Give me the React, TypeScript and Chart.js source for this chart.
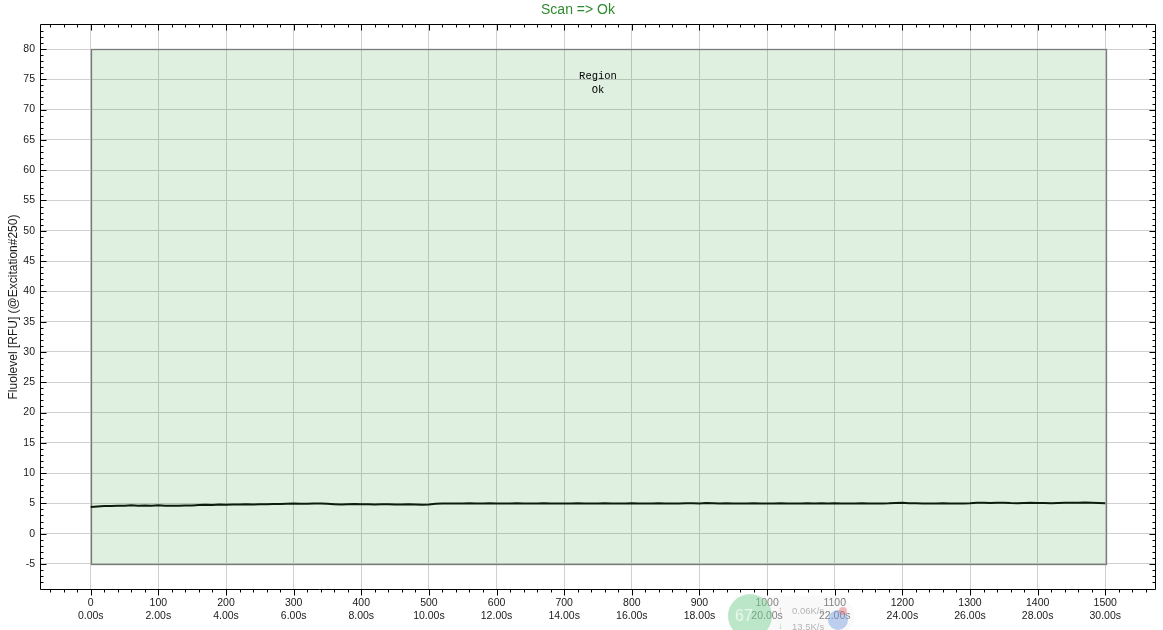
import React, { useEffect, useRef } from "react";
import { Chart, registerables } from "chart.js";

Chart.register(...registerables);

const TITLE = "Scan => Ok";
const Y_TITLE = "Fluolevel [RFU] (@Excitation#250)";
const X_MIN = -75;
const X_MAX = 1575;
const Y_MIN = -9.3;
const Y_MAX = 84.13;
const X_TICKS = [0, 100, 200, 300, 400, 500, 600, 700, 800, 900, 1000, 1100, 1200, 1300, 1400, 1500];
const Y_TICKS = [-5, 0, 5, 10, 15, 20, 25, 30, 35, 40, 45, 50, 55, 60, 65, 70, 75, 80];
const X_MINOR_STEP = 20;
const Y_MINOR_STEP = 1;
const SECONDS_PER_SAMPLE = 0.02;
const SAMPLE_STEP = 10;

const REGION_X = [0, 1500];
const REGION_Y = [-5, 80];
const REGION_LABEL = ["Region", "Ok"];

// Fluorescence level, one value every SAMPLE_STEP samples (0..1500)
const FLUO = [
  4.4, 4.5, 4.55, 4.58, 4.6, 4.62, 4.7, 4.62, 4.64, 4.6, 4.68, 4.62, 4.6, 4.62, 4.66, 4.64,
  4.75, 4.78, 4.74, 4.8, 4.78, 4.82, 4.8, 4.84, 4.8, 4.86, 4.84, 4.9, 4.88, 4.92, 4.96, 4.94, 4.92, 4.96, 4.98, 4.94,
  4.86, 4.8, 4.84, 4.9, 4.86, 4.84, 4.82, 4.86, 4.84, 4.8, 4.82, 4.84, 4.8, 4.78, 4.82,
  4.94, 4.96, 4.98, 4.96, 4.98, 5.0, 4.96, 4.98, 5.0, 4.98, 4.96, 4.98, 5.0, 4.98, 4.96, 4.98, 5.0, 4.98, 4.96, 4.98,
  4.98, 5.0, 4.98, 4.96, 4.98, 5.0, 4.98, 4.96, 4.98, 5.0, 4.98, 4.96, 4.98, 5.0, 4.98, 4.96, 4.98, 5.0, 5.02, 4.98,
  5.08, 5.02, 4.98, 5.0, 4.98, 4.96, 4.98, 5.0, 4.98, 4.96, 4.98, 5.0, 4.98, 4.96, 4.98, 5.0, 4.98, 5.02, 4.98, 5.0,
  4.98, 4.96, 4.98, 5.0, 4.98, 4.96, 4.98, 5.0, 5.06, 5.1, 5.02, 5.0, 4.98, 4.96, 4.98, 5.0, 4.98, 4.96, 4.98, 5.0,
  5.1, 5.12, 5.08, 5.1, 5.12, 5.06, 5.04, 5.08, 5.1, 5.06, 5.08, 5.04, 5.06, 5.1, 5.12, 5.1, 5.14, 5.1, 5.06, 5.04,
];

const FONT = '"Liberation Sans", Arial, sans-serif';

const framePlugin = {
  id: "framePlugin",
  beforeDatasetsDraw(chart: any) {
    const { ctx, scales } = chart;
    const x = scales.x;
    const y = scales.y;
    const x0 = x.getPixelForValue(REGION_X[0]);
    const x1 = x.getPixelForValue(REGION_X[1]);
    const y0 = y.getPixelForValue(REGION_Y[1]);
    const y1 = y.getPixelForValue(REGION_Y[0]);
    ctx.save();
    ctx.fillStyle = "rgba(0,128,0,0.12)";
    ctx.fillRect(x0, y0, x1 - x0, y1 - y0);
    ctx.strokeStyle = "#7a7a7a";
    ctx.lineWidth = 1.3;
    ctx.strokeRect(Math.round(x0) + 0.5, Math.round(y0) + 0.5, Math.round(x1 - x0), Math.round(y1 - y0));
    ctx.fillStyle = "#000";
    ctx.font = '10.5px "Liberation Mono", "DejaVu Sans Mono", monospace';
    ctx.textAlign = "center";
    ctx.textBaseline = "middle";
    const cx = x.getPixelForValue((REGION_X[0] + REGION_X[1]) / 2);
    REGION_LABEL.forEach((t, i) => ctx.fillText(t, cx, y0 + 27 + i * 14));
    ctx.restore();
  },
  afterDatasetsDraw(chart: any) {
    const { ctx, chartArea, scales } = chart;
    const x = scales.x;
    const y = scales.y;
    const L = Math.round(chartArea.left) + 0.5;
    const R = Math.round(chartArea.right) - 0.5;
    const T = Math.round(chartArea.top) + 0.5;
    const B = Math.round(chartArea.bottom) - 0.5;
    ctx.save();
    ctx.strokeStyle = "#000";
    ctx.lineWidth = 1;
    ctx.beginPath();
    ctx.rect(L, T, R - L, B - T);
    const xStart = Math.ceil(X_MIN / X_MINOR_STEP) * X_MINOR_STEP;
    for (let v = xStart; v <= X_MAX; v += X_MINOR_STEP) {
      const major = v % 100 === 0;
      const len = major ? 6 : 3;
      const px = Math.round(x.getPixelForValue(v)) + 0.5;
      if (px <= L + 1 || px >= R - 1) continue;
      ctx.moveTo(px, T);
      ctx.lineTo(px, T + len);
      ctx.moveTo(px, B);
      ctx.lineTo(px, B + len);
    }
    const yStart = Math.ceil(Y_MIN / Y_MINOR_STEP) * Y_MINOR_STEP;
    for (let v = yStart; v <= Y_MAX; v += Y_MINOR_STEP) {
      const major = v % 5 === 0;
      const len = major ? 6 : 3;
      const py = Math.round(y.getPixelForValue(v)) + 0.5;
      if (py <= T + 1 || py >= B - 1) continue;
      ctx.moveTo(L, py);
      ctx.lineTo(L + len, py);
      ctx.moveTo(R, py);
      ctx.lineTo(R - len, py);
    }
    ctx.stroke();
    ctx.restore();
  },
  afterDraw(chart: any) {
    const { ctx } = chart;
    ctx.save();
    ctx.globalAlpha = 0.45;
    ctx.fillStyle = "#f2f2f2";
    ctx.beginPath();
    ctx.roundRect(728, 596, 126, 40, 20);
    ctx.fill();
    ctx.fillStyle = "#6fcf8c";
    ctx.beginPath();
    ctx.arc(750, 616, 22, 0, Math.PI * 2);
    ctx.fill();
    ctx.fillStyle = "#6f9ae0";
    ctx.beginPath();
    ctx.arc(838, 620, 10, 0, Math.PI * 2);
    ctx.fill();
    ctx.fillStyle = "#e86a6a";
    ctx.beginPath();
    ctx.arc(843, 611, 4, 0, Math.PI * 2);
    ctx.fill();
    ctx.globalAlpha = 0.7;
    ctx.fillStyle = "#fff";
    ctx.font = `16px ${FONT}`;
    ctx.textAlign = "left";
    ctx.textBaseline = "middle";
    ctx.fillText("67", 735, 617);
    ctx.fillStyle = "#999";
    ctx.font = `9.5px ${FONT}`;
    ctx.fillText("0.06K/s", 792, 611);
    ctx.fillText("13.5K/s", 792, 627);
    ctx.fillStyle = "#e88";
    ctx.fillText("\u2191", 778, 610);
    ctx.fillStyle = "#7c7";
    ctx.fillText("\u2193", 778, 626);
    ctx.restore();
  },
};

export default function App() {
  const ref = useRef<HTMLCanvasElement | null>(null);
  useEffect(() => {
    const canvas = ref.current;
    if (!canvas) return;
    const data = FLUO.map((v, i) => ({ x: i * SAMPLE_STEP, y: v }));
    const chart = new Chart(canvas, {
      type: "line",
      data: {
        datasets: [
          {
            data,
            borderColor: "#0b1c0b",
            borderWidth: 2,
            pointRadius: 0,
            tension: 0,
            fill: false,
          },
        ],
      },
      options: {
        animation: false,
        responsive: false,
        maintainAspectRatio: false,
        layout: { padding: { left: 0, right: 7, top: 0, bottom: 0 } },
        plugins: {
          legend: { display: false },
          tooltip: { enabled: false },
          title: {
            display: true,
            text: TITLE,
            color: "#2e8b2e",
            font: { family: FONT, size: 14, weight: "normal", lineHeight: 1.2 },
            padding: { top: 2, bottom: 5.2 },
          },
        },
        scales: {
          x: {
            type: "linear",
            min: X_MIN,
            max: X_MAX,
            afterBuildTicks: (s: any) => {
              s.ticks = X_TICKS.map((v) => ({ value: v }));
            },
            afterFit: (s: any) => {
              s.height = 40;
            },
            grid: { color: "#d0d0d0", lineWidth: 1, drawTicks: false },
            border: { display: false },
            ticks: {
              padding: 7,
              maxRotation: 0,
              autoSkip: false,
              color: "#1a1a1a",
              font: { family: FONT, size: 10.5, lineHeight: 12.5 / 10.5 },
              callback: (v: any) => [String(v), (Number(v) * SECONDS_PER_SAMPLE).toFixed(2) + "s"],
            },
          },
          y: {
            type: "linear",
            min: Y_MIN,
            max: Y_MAX,
            afterBuildTicks: (s: any) => {
              s.ticks = Y_TICKS.map((v) => ({ value: v }));
            },
            afterFit: (s: any) => {
              s.width = 40;
            },
            grid: { color: "#d0d0d0", lineWidth: 1, drawTicks: false },
            border: { display: false },
            ticks: {
              padding: 5,
              autoSkip: false,
              color: "#1a1a1a",
              font: { family: FONT, size: 10.5 },
              callback: (v: any) => String(v),
            },
            title: {
              display: true,
              text: Y_TITLE,
              color: "#1a1a1a",
              font: { family: FONT, size: 12, lineHeight: 1.2 },
              padding: { top: 6, bottom: 0 },
            },
          },
        },
      } as any,
      plugins: [framePlugin],
    });
    return () => chart.destroy();
  }, []);
  return (
    <div style={{ position: "fixed", left: 0, top: 0, width: 1163, height: 630, background: "#fff" }}>
      <canvas ref={ref} width={1163} height={630} style={{ width: 1163, height: 630, display: "block" }} />
    </div>
  );
}
